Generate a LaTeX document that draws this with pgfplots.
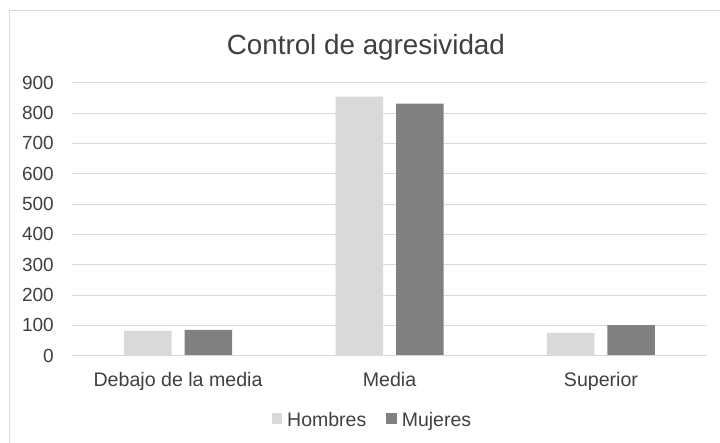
\documentclass[border=0pt]{standalone}
\usepackage{fontspec}
\setmainfont{Liberation Sans}
\usepackage{pgfplots}
\pgfplotsset{compat=1.18}
\definecolor{hom}{HTML}{D9D9D9}
\definecolor{muj}{HTML}{808080}
\definecolor{gridc}{HTML}{D9D9D9}
\definecolor{txt}{HTML}{404040}
\begin{document}
\begin{tikzpicture}
\useasboundingbox (0,0) rectangle (720pt,443pt);
\fill[white] (0,0) rectangle (720pt,443pt);
\draw[gridc, line width=1pt] (9pt,0) -- (9pt,432.3pt) -- (720pt,432.3pt);
\node[anchor=base, text=txt, inner sep=0pt, font=\fontsize{27.8}{30}\selectfont] at (365.9pt,388pt) {Control de agresividad};
\begin{axis}[
  at={(72.3pt,87.3pt)}, anchor=south west,
  scale only axis, width=634.4pt, height=273pt,
  ybar=13pt, bar width=47.5pt,
  xmin=-0.5, xmax=2.5, ymin=0, ymax=900,
  xtick={0,1,2}, xticklabels={Debajo de la media, Media, Superior},
  ytick={0,100,...,900},
  axis line style={draw=none},
  major tick length=0pt, tick style={draw=none},
  ymajorgrids, grid style={gridc, line width=1pt},
  /pgf/number format/assume math mode=true,
  yticklabel style={anchor=east, inner sep=0pt, xshift=-18.3pt, text=txt, font=\fontsize{19}{21}\selectfont},
  xticklabel style={anchor=north, inner sep=0pt, yshift=-17.3pt, text height=13pt, text=txt, font=\fontsize{19.6}{21}\selectfont},
  legend columns=2,
  legend style={at={(0.4715,-0.2374)}, anchor=center, draw=none, fill=none, text=txt, font=\fontsize{19.5}{21}\selectfont,
    nodes={inner sep=0pt}, /tikz/every even column/.append style={column sep=20pt}},
  legend image code/.code={\fill[#1] (0pt,-3.2pt) rectangle (10.5pt,7.1pt);},
  legend cell align=left,
]
\addplot[fill=hom, draw=none] coordinates {(0,82) (1,854) (2,75)};
\addplot[fill=muj, draw=none] coordinates {(0,85) (1,831) (2,101)};
\draw[gridc, line width=1.4pt] (axis cs:-0.5,0) -- (axis cs:2.5,0);
\legend{\hspace{5pt}Hombres, \hspace{5pt}Mujeres}
\end{axis}
\end{tikzpicture}
\end{document}
